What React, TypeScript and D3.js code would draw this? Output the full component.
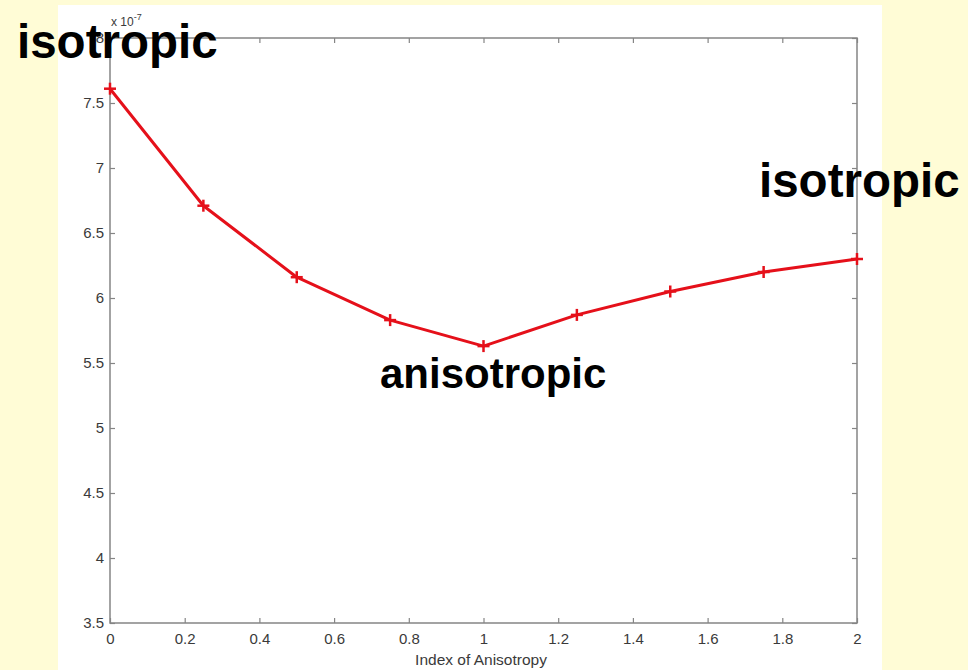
import React, { useEffect, useRef } from 'react'
import * as d3 from 'd3'

// index of anisotropy vs value (x 10^-7)
const anisotropy = [0, 0.25, 0.5, 0.75, 1, 1.25, 1.5, 1.75, 2]
const values = [7.61, 6.71, 6.16, 5.83, 5.63, 5.87, 6.05, 6.2, 6.3]
const xTicks = [0, 0.2, 0.4, 0.6, 0.8, 1, 1.2, 1.4, 1.6, 1.8, 2]
const yTicks = [3.5, 4, 4.5, 5, 5.5, 6, 6.5, 7, 7.5, 8]

const W = 968
const H = 670
const box = { left: 110, right: 857, top: 38, bottom: 623 }
const axisColor = '#858585'
const labelColor = '#3a3a3a'
const font = 'Liberation Sans, Arial, sans-serif'

const App = () => {
  const ref = useRef<SVGGElement>(null)

  const x = d3.scaleLinear().domain([0, 2]).range([box.left, box.right])
  const y = d3.scaleLinear().domain([3.5, 8]).range([box.bottom, box.top])

  useEffect(() => {
    if (!ref.current) return
    const g = d3.select(ref.current)
    g.selectAll('*').remove()

    const style = (sel: any) => {
      sel.select('.domain').remove()
      sel.selectAll('line').attr('stroke', axisColor).attr('stroke-width', 1.2)
      sel.selectAll('text')
        .attr('fill', labelColor)
        .attr('font-family', font)
        .attr('font-size', 15)
    }

    g.append('g').attr('transform', `translate(0,${box.bottom})`)
      .call(d3.axisBottom(x).tickValues(xTicks).tickSizeInner(-5).tickSizeOuter(0).tickPadding(10).tickFormat(d3.format('')))
      .call(style)
    g.append('g').attr('transform', `translate(0,${box.top})`)
      .call(d3.axisTop(x).tickValues(xTicks).tickSizeInner(-5).tickSizeOuter(0).tickFormat(() => ''))
      .call(style)
    g.append('g').attr('transform', `translate(${box.left},0)`)
      .call(d3.axisLeft(y).tickValues(yTicks).tickSizeInner(-5).tickSizeOuter(0).tickPadding(6).tickFormat(d3.format('')))
      .call(style)
    g.append('g').attr('transform', `translate(${box.right},0)`)
      .call(d3.axisRight(y).tickValues(yTicks).tickSizeInner(-5).tickSizeOuter(0).tickFormat(() => ''))
      .call(style)
  }, [])

  const line = d3.line<number>().x((_, i) => x(anisotropy[i])).y(d => y(d))

  return (
    <div style={{ position: 'fixed', left: 0, top: 0 }}>
      <svg width={W} height={H} style={{ display: 'block' }}>
        <rect x={0} y={0} width={W} height={H} fill="#fffcd6" />
        <rect x={58} y={5} width={824} height={H - 5} fill="#ffffff" />
        <rect x={box.left} y={box.top} width={box.right - box.left} height={box.bottom - box.top}
          fill="none" stroke={axisColor} strokeWidth={1.5} />
        <g ref={ref} />
        <text x={111} y={26} fontFamily={font} fontSize={12} fill={labelColor}>
          x 10<tspan dy={-6} fontSize={9}>-7</tspan>
        </text>
        <text x={481} y={665} textAnchor="middle" fontFamily={font} fontSize={15.5} fill={labelColor}>
          Index of Anisotropy
        </text>
        <path d={line(values) ?? ''} fill="none" stroke="#e5101a" strokeWidth={3} strokeLinejoin="round" />
        {values.map((v, i) => (
          <g key={i} transform={`translate(${x(anisotropy[i])},${y(v)})`} stroke="#e5101a" strokeWidth={2.5}>
            <line x1={-6} x2={6} y1={0} y2={0} />
            <line x1={0} x2={0} y1={-6} y2={6} />
          </g>
        ))}
        <g fontFamily={font} fontWeight="bold" fill="#000">
          <text x={17} y={58} fontSize={47.5}>isotropic</text>
          <text x={759} y={197} fontSize={47.5}>isotropic</text>
          <text x={380} y={388} fontSize={42}>anisotropic</text>
        </g>
      </svg>
    </div>
  )
}

export default App
